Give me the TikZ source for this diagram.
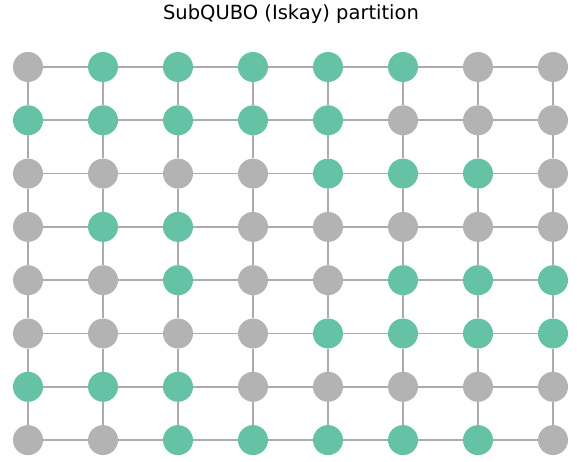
\documentclass[tikz,border=0pt]{standalone}
\usepackage{fontspec}
\setsansfont{DejaVu Sans}
\definecolor{selgreen}{HTML}{66C2A5}
\definecolor{restgray}{HTML}{B3B3B3}
\definecolor{linkgray}{HTML}{ABABAB}
\tikzset{
  qubit/.style={circle,inner sep=0pt,minimum size=30pt},
  q0/.style={qubit,fill=restgray},
  q1/.style={qubit,fill=selgreen},
  link/.style={draw=linkgray,line width=1.6pt}
}

\begin{document}
\begin{tikzpicture}[x=1pt,y=-1pt]
\useasboundingbox (0,0) rectangle (577,462);
\node[font=\sffamily\fontsize{19.5}{23}\selectfont] (title) at (291,14) {SubQUBO (Iskay) partition};
% rows top to bottom, 1 = in the subQUBO
\foreach \bits [count=\row from 0] in {
    {0,1,1,1,1,1,0,0},
    {1,1,1,1,1,0,0,0},
    {0,0,0,0,1,1,1,0},
    {0,1,1,0,0,0,0,0},
    {0,0,1,0,0,1,1,1},
    {0,0,0,0,1,1,1,1},
    {1,1,1,0,0,0,0,0},
    {0,0,1,1,1,1,1,0}} {
  \foreach \v [count=\col from 0] in \bits {
    \node[q\v] (n\row-\col) at (28+75*\col,67+53.3*\row) {};
  }
}
% grid links
\foreach \a in {0,...,7} {
  \foreach \b [evaluate=\b as \bb using int(\b+1)] in {0,...,6} {
    \draw[link] (n\a-\b) -- (n\a-\bb);
    \draw[link] (n\b-\a) -- (n\bb-\a);
  }
}
\end{tikzpicture}
\end{document}
